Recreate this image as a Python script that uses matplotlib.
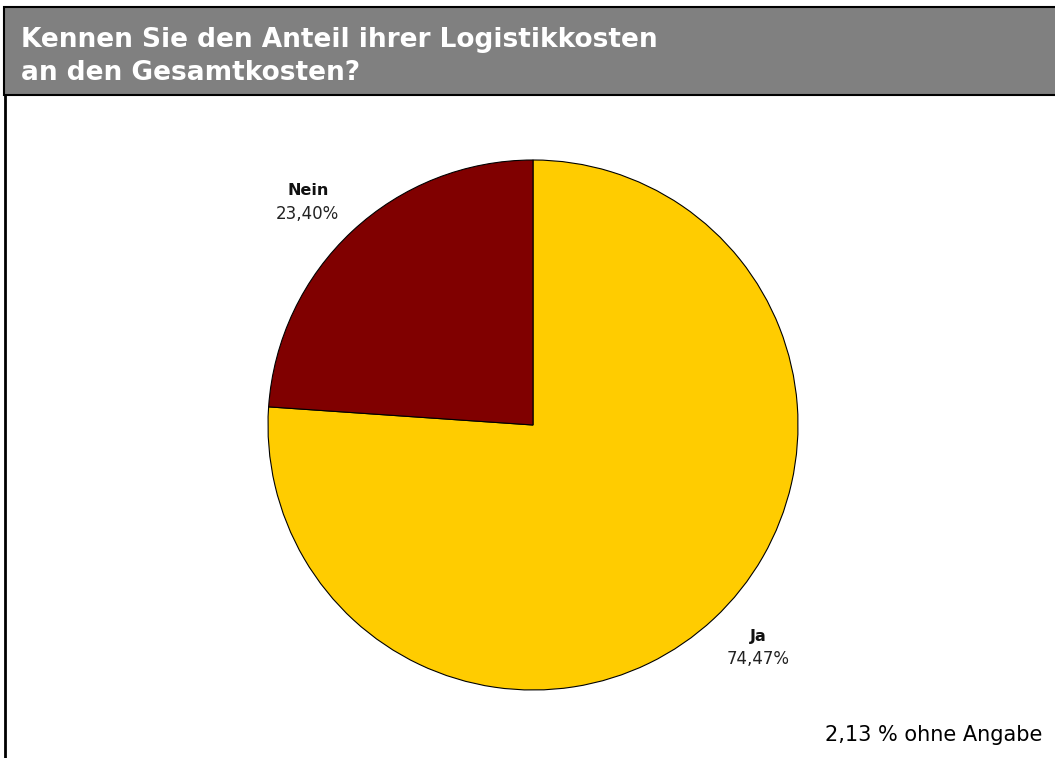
import numpy as np
import matplotlib.pyplot as plt
from matplotlib.patches import Rectangle

# Survey answers (percent)
labels = ['Ja', 'Nein']
values = [74.47, 23.40]
value_text = ['74,47%', '23,40%']
colors = ['#FFCC00', '#800000']
title = 'Kennen Sie den Anteil ihrer Logistikkosten\nan den Gesamtkosten?'
note = '2,13 % ohne Angabe'

W, H = 1055, 758
fig = plt.figure(figsize=(W / 100, H / 100), dpi=100)
fig.patch.set_facecolor('white')

# Header bar and frame (pixel coords converted to figure fraction)
def fx(px):
    return px / W

def fy(py):
    return 1 - py / H

fig.patches.append(Rectangle((fx(4), fy(95)), fx(1060) - fx(4), fy(7) - fy(95),
                             transform=fig.transFigure, facecolor='#808080',
                             edgecolor='black', linewidth=1.5, zorder=0))
fig.add_artist(plt.Line2D([fx(5), fx(5)], [fy(95), fy(760)], color='black',
                          linewidth=2, transform=fig.transFigure))
fig.text(fx(21), fy(40), title.split('\n')[0], color='white', fontsize=19,
         fontweight='bold', family='DejaVu Sans', ha='left', va='center')
fig.text(fx(21), fy(73), title.split('\n')[1], color='white', fontsize=19,
         fontweight='bold', family='DejaVu Sans', ha='left', va='center')

# Pie
cx, cy, r = 533, 425, 265
ax = fig.add_axes([fx(cx - r), fy(cy + r), fx(2 * r), fy(cy - r) - fy(cy + r)])
wedges, _ = ax.pie(values, colors=colors, startangle=90, counterclock=False,
                   wedgeprops=dict(edgecolor='black', linewidth=0.8))
ax.set_aspect('equal')
ax.set_xlim(-1, 1)
ax.set_ylim(-1, 1)
ax.axis('off')

for w, lab, vt in zip(wedges, labels, value_text):
    mid = np.deg2rad((w.theta1 + w.theta2) / 2)
    x, y = 1.245 * np.cos(mid), 1.15 * np.sin(mid)
    ax.text(x, y + 0.043, lab, ha='center', va='center', fontsize=11.5,
            fontweight='bold', family='DejaVu Sans', color='#111111', clip_on=False)
    ax.text(x, y - 0.043, vt, ha='center', va='center', fontsize=12,
            family='DejaVu Sans', color='#222222', clip_on=False)

fig.text(fx(1042), fy(735), note, ha='right', va='center', fontsize=15,
         family='DejaVu Sans', color='black')

fig.savefig('out.png', dpi=100)
